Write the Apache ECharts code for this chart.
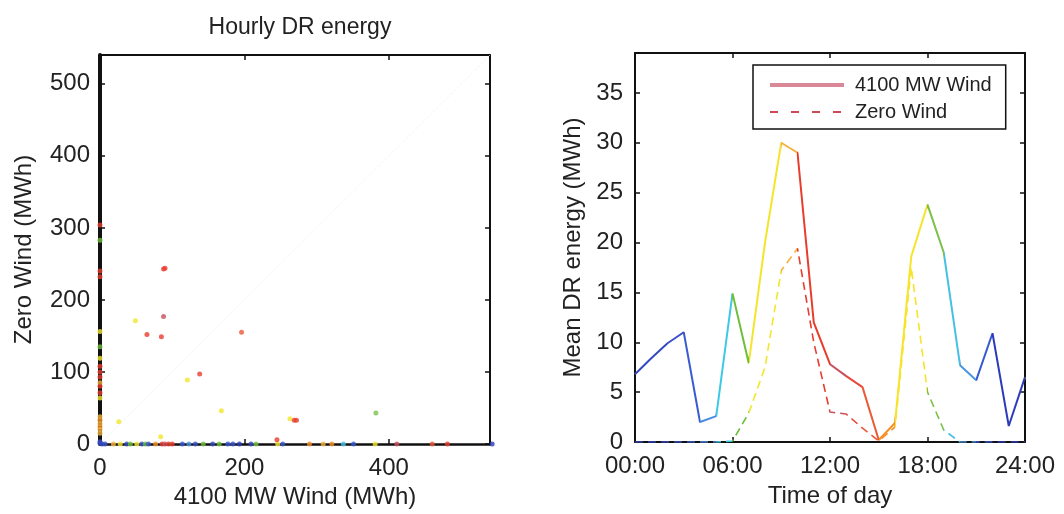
<!DOCTYPE html>
<html><head><meta charset="utf-8">
<script src="https://cdn.jsdelivr.net/npm/echarts/dist/echarts.min.js"></script>
<style>html,body{margin:0;padding:0;background:#fff}#c{width:1064px;height:514px}</style>
</head><body><div id="c"></div>
<script>
// ---------- data ----------
const hours = [0,1,2,3,4,5,6,7,8,9,10,11,12,13,14,15,16,17,18,19,20,21,22,23,24];
const wind4100 = [6.8,8.4,9.9,11.0,2.0,2.6,14.9,7.9,20.0,30.0,29.0,12.0,7.8,6.6,5.5,0.2,1.9,18.6,23.8,19.0,7.7,6.2,10.9,1.6,6.5];
const zeroWind = [0,0,0,0,0,0,0.1,2.9,7.5,17.2,19.4,10.0,3.0,2.8,1.4,0.1,1.5,17.5,5.0,1.2,0,0,0,0,0];
const timeLabels = ['00:00','06:00','12:00','18:00','24:00'];
const scatterTicks = [0,100,200,300,400,500];
// colour of each hour of the day (segment h..h+1)
const hourColors = ['#3448c0','#3448c0','#3a50c8','#3a5cd0','#4a8ee0','#3ec8e8','#6cbf3c','#f2e62c','#f2e62c','#f4b23c',
  '#e83c2c','#e83c2c','#c8505c','#e8483c','#ea5a34','#f59028','#f5e42a','#f5e42a','#7cc048','#48c0e4',
  '#4a96e0','#3858d0','#2c3cb8','#2c3cb8'];
// scatter points [4100 MW wind, zero wind, hour of day]
const onYAxis = [[0,304,11],[0,283,6.5],[0,240,11],[0,232,11.5],[0,156,8],[0,135,6.5],[0,119,8],[0,108,11],[0,100,10.5],
  [0,93,11],[0,85,9.5],[0,80,10.5],[0,71,11],[0,64,8],[0,38,9.5],[0,33,15],[0,28,9.5],[0,24,15],[0,20,9.5],[0,15,9.5],[0,3,2],[0,1,1]];
const onXAxis = [[3,0,1],[7,0,2],[18.6,0,9.5],[28,0,7],[37,0,1],[42,0,6.5],[51,0,8],[58,0,2],[63,0,6.5],[67,0,21],[77,0,15],
  [86,0,11],[90,0,12.5],[95,0,11],[100,0,10.5],[114,0,21],[123,0,20.5],[132,0,2],[143,0,6.5],[156,0,1],[165,0,6.5],
  [177,0,21],[184,0,2],[193,0,22],[209,0,1],[216,0,18.5],[246,0,8],[253,0,21],[290,0,15],[309,0,9.5],[321,0,15],
  [337,0,19.5],[351,0,21],[381,0,8],[411,0,12.5],[460,0,14.5],[481,0,11],[543,0,22]];
const offAxis = [[88,243,11],[90,244,11],[88,177,12.5],[49,171,8],[65,152,11],[85,149,10.5],[196,155,14.5],[138,97,11],
  [121,89,8],[168,46,8],[263,35,7],[269,33,11],[272,33,11],[382,43,18.5],[26,31,8],[84,10,8],[245,6,11]];
const diagonal = [[0,0],[540,540]];

// ---------- chart ----------
const FONT = "'Liberation Sans', Arial, Helvetica, sans-serif";
const TXT = '#222';
const hourPieces = hourColors.map((c,h)=> h===23 ? {gte:h, lte:h+1, color:c} : {gte:h, lt:h+1, color:c});

function axisBase(extra){
  return Object.assign({
    type:'value', splitLine:{show:false},
    axisLine:{show:true, onZero:false, lineStyle:{color:'#111', width:2}},
    axisTick:{show:true, inside:true, length:5, lineStyle:{color:'#111', width:1.5}},
    axisLabel:{show:false},
    nameTextStyle:{fontFamily:FONT, fontSize:24, color:TXT}
  }, extra);
}
const lab = (margin, fmt)=>({show:true, margin, fontFamily:FONT, fontSize:24, color:TXT, formatter:fmt});

const chart = echarts.init(document.getElementById('c'), null, {renderer:'canvas'});
chart.setOption({
  animation:false,
  backgroundColor:'#fff',
  title:{text:'Hourly DR energy', left:295, top:11, textAlign:'center',
    textStyle:{fontFamily:FONT, fontSize:23, fontWeight:'normal', color:TXT}},
  grid:[
    {left:100, top:55, width:390, height:389},
    {left:635, top:53, width:390, height:389}
  ],
  xAxis:[
    axisBase({gridIndex:0, position:'bottom', min:0, max:540, interval:200,
      axisLine:{show:true,onZero:false,lineStyle:{color:'#111',width:2.5}},
      axisLabel:lab(12, v=> scatterTicks.includes(v) ? String(v) : ''),
      name:'4100 MW Wind (MWh)', nameLocation:'middle', nameGap:40}),
    axisBase({gridIndex:0, position:'top', min:0, max:540, interval:200}),
    axisBase({gridIndex:1, position:'bottom', min:0, max:24, interval:6,
      axisLabel:lab(12, v=> v%6===0 ? timeLabels[v/6] : ''),
      name:'Time of day', nameLocation:'middle', nameGap:42}),
    axisBase({gridIndex:1, position:'top', min:0, max:24, interval:6})
  ],
  yAxis:[
    axisBase({gridIndex:0, position:'left', min:0, max:540, interval:100,
      axisLine:{show:true,onZero:false,lineStyle:{color:'#111',width:4}},
      axisLabel:lab(10, v=> scatterTicks.includes(v) ? String(v) : ''),
      name:'Zero Wind (MWh)', nameLocation:'middle', nameGap:64}),
    axisBase({gridIndex:0, position:'right', min:0, max:540, interval:100}),
    axisBase({gridIndex:1, position:'left', min:0, max:39, interval:5,
      axisLabel:lab(12, v=> v%5===0 ? String(v) : ''),
      name:'Mean DR energy (MWh)', nameLocation:'middle', nameGap:50}),
    axisBase({gridIndex:1, position:'right', min:0, max:39, interval:5})
  ],
  visualMap:[
    {type:'piecewise', show:false, dimension:0, seriesIndex:[2,3], pieces:hourPieces, outOfRange:{color:'#888'}},
    {type:'piecewise', show:false, dimension:2, seriesIndex:1, pieces:hourPieces, outOfRange:{color:'#888'}}
  ],
  legend:{
    orient:'vertical', left:753, top:65, itemWidth:74, itemHeight:12, itemGap:7,
    padding:[10,14,7,15], borderColor:'#111', borderWidth:1.5, selectedMode:false,
    textStyle:{fontFamily:FONT, fontSize:20, color:TXT, padding:[0,0,0,6]},
    data:[
      {name:'4100 MW Wind', itemStyle:{color:'#d98898', opacity:0, borderWidth:0}, lineStyle:{color:'#d98898', width:4, type:'solid'}},
      {name:'Zero Wind', itemStyle:{color:'#d04858', opacity:0, borderWidth:0}, lineStyle:{color:'#d04858', width:2, type:[8,13]}}
    ]
  },
  series:[
    {type:'line', xAxisIndex:0, yAxisIndex:0, data:diagonal, symbol:'none', silent:true,
      lineStyle:{color:'#eeeeee', width:1, type:'dotted'}, z:1},
    {type:'scatter', xAxisIndex:0, yAxisIndex:0, data:onYAxis.concat(onXAxis, offAxis),
      symbol:'circle', symbolSize:5, z:3, clip:false},
    {name:'4100 MW Wind', type:'line', xAxisIndex:2, yAxisIndex:2, symbol:'none',
      data:hours.map((h,i)=>[h, wind4100[i]]), lineStyle:{width:2}, z:4},
    {name:'Zero Wind', type:'line', xAxisIndex:2, yAxisIndex:2, symbol:'none',
      data:hours.map((h,i)=>[h, zeroWind[i]]), lineStyle:{width:1.6, type:[8,5]}, z:3}
  ]
});
</script>
</body></html>
